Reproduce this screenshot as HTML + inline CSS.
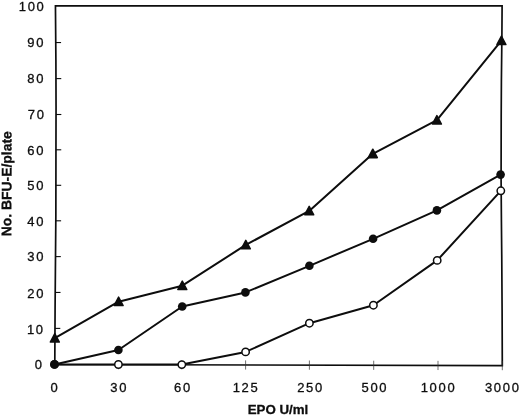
<!DOCTYPE html>
<html><head><meta charset="utf-8"><title>chart</title>
<style>
html,body{margin:0;padding:0;background:#fff;}
body{width:520px;height:416px;overflow:hidden;position:relative;font-family:"Liberation Sans",sans-serif;}
svg{position:absolute;left:0;top:0;}
.t{font-family:"Liberation Sans",sans-serif;font-size:13px;letter-spacing:1.7px;fill:#0d0d0d;stroke:#0d0d0d;stroke-width:0.3px;}
.b{font-family:"Liberation Sans",sans-serif;font-size:13.3px;font-weight:bold;fill:#0d0d0d;stroke:#0d0d0d;stroke-width:0.3px;}
</style></head><body>
<svg width="520" height="416" viewBox="0 0 520 416">
<!-- plot frame -->
<polygon points="54.8,364.5 55.1,306 55.4,270 55.85,216 55.96,145 56.05,106 55.9,60 55.45,5.8 502.1,5.8 501.9,36 501.4,80 501.2,116 501.1,180 501.4,220 501.75,256 502.1,310 502.3,365.6" fill="none" stroke="#0d0d0d" stroke-width="1.7" stroke-linejoin="miter"/>
<!-- y ticks -->
<line x1="54.99" y1="328.40" x2="60.29" y2="328.40" stroke="#0d0d0d" stroke-width="1.1"/>
<line x1="55.21" y1="292.45" x2="60.51" y2="292.45" stroke="#0d0d0d" stroke-width="1.1"/>
<line x1="55.51" y1="256.60" x2="60.81" y2="256.60" stroke="#0d0d0d" stroke-width="1.1"/>
<line x1="55.81" y1="220.80" x2="61.11" y2="220.80" stroke="#0d0d0d" stroke-width="1.1"/>
<line x1="55.90" y1="185.30" x2="61.20" y2="185.30" stroke="#0d0d0d" stroke-width="1.1"/>
<line x1="55.95" y1="149.80" x2="61.25" y2="149.80" stroke="#0d0d0d" stroke-width="1.1"/>
<line x1="56.03" y1="114.50" x2="61.33" y2="114.50" stroke="#0d0d0d" stroke-width="1.1"/>
<line x1="55.96" y1="78.60" x2="61.26" y2="78.60" stroke="#0d0d0d" stroke-width="1.1"/>
<line x1="55.76" y1="42.55" x2="61.06" y2="42.55" stroke="#0d0d0d" stroke-width="1.1"/>
<!-- x ticks -->
<line x1="118.50" y1="360.06" x2="118.50" y2="369.26" stroke="#333" stroke-width="0.7"/>
<line x1="181.80" y1="360.21" x2="181.80" y2="369.41" stroke="#333" stroke-width="0.7"/>
<line x1="245.60" y1="360.37" x2="245.60" y2="369.57" stroke="#333" stroke-width="0.7"/>
<line x1="309.40" y1="360.53" x2="309.40" y2="369.73" stroke="#333" stroke-width="0.7"/>
<line x1="373.70" y1="360.69" x2="373.70" y2="369.89" stroke="#333" stroke-width="0.7"/>
<line x1="438.00" y1="360.84" x2="438.00" y2="370.04" stroke="#333" stroke-width="0.7"/>
<line x1="502.30" y1="361.00" x2="502.30" y2="370.20" stroke="#333" stroke-width="0.7"/>
<!-- y labels -->
<text class="t" x="43.8" y="369.1" text-anchor="end">0</text>
<text class="t" x="44.8" y="333.8" text-anchor="end">10</text>
<text class="t" x="45.2" y="297.5" text-anchor="end">20</text>
<text class="t" x="45.2" y="261.4" text-anchor="end">30</text>
<text class="t" x="45.2" y="225.9" text-anchor="end">40</text>
<text class="t" x="45.2" y="190.4" text-anchor="end">50</text>
<text class="t" x="45.2" y="154.9" text-anchor="end">60</text>
<text class="t" x="45.6" y="119.0" text-anchor="end">70</text>
<text class="t" x="45.2" y="83.3" text-anchor="end">80</text>
<text class="t" x="45.2" y="47.0" text-anchor="end">90</text>
<text class="t" x="45.5" y="10.7" text-anchor="end">100</text>
<!-- x labels -->
<text class="t" x="54.9" y="391.5" text-anchor="middle">0</text>
<text class="t" x="119.3" y="391.5" text-anchor="middle">30</text>
<text class="t" x="183.0" y="391.5" text-anchor="middle">60</text>
<text class="t" x="246.1" y="391.5" text-anchor="middle">125</text>
<text class="t" x="310.6" y="391.5" text-anchor="middle">250</text>
<text class="t" x="374.9" y="391.5" text-anchor="middle">500</text>
<text class="t" x="438.5" y="391.5" text-anchor="middle">1000</text>
<text class="t" x="502.8" y="391.5" text-anchor="middle">3000</text>
<text class="b" x="278" y="414" text-anchor="middle">EPO U/ml</text>
<text class="b" transform="translate(11.4,183.7) rotate(-89.92)" text-anchor="middle" style="font-size:13.9px">No. BFU-E/plate</text>
<!-- series lines -->
<polyline points="54.5,364.4 118.4,364.5 181.8,364.6 245.6,351.9 309.4,323.2 373.4,305.2 437.2,260.4 500.8,190.8" fill="none" stroke="#0d0d0d" stroke-width="2" stroke-linejoin="round"/>
<polyline points="54.5,364.4 118.4,350.0 182.2,306.5 245.4,292.4 309.4,265.8 373.1,238.8 436.9,210.4 500.6,174.6" fill="none" stroke="#0d0d0d" stroke-width="2" stroke-linejoin="round"/>
<polyline points="54.8,338.2 118.6,301.7 182.3,285.7 245.8,244.9 309.2,210.9 372.8,153.8 436.9,120.2 501.4,40.6" fill="none" stroke="#0d0d0d" stroke-width="2" stroke-linejoin="round"/>
<!-- markers -->
<circle cx="54.5" cy="364.4" r="3.7" fill="#fff" stroke="#0d0d0d" stroke-width="1.5"/>
<circle cx="118.4" cy="364.5" r="3.7" fill="#fff" stroke="#0d0d0d" stroke-width="1.5"/>
<circle cx="181.8" cy="364.6" r="3.7" fill="#fff" stroke="#0d0d0d" stroke-width="1.5"/>
<circle cx="245.6" cy="351.9" r="3.7" fill="#fff" stroke="#0d0d0d" stroke-width="1.5"/>
<circle cx="309.4" cy="323.2" r="3.7" fill="#fff" stroke="#0d0d0d" stroke-width="1.5"/>
<circle cx="373.4" cy="305.2" r="3.7" fill="#fff" stroke="#0d0d0d" stroke-width="1.5"/>
<circle cx="437.2" cy="260.4" r="3.7" fill="#fff" stroke="#0d0d0d" stroke-width="1.5"/>
<circle cx="500.8" cy="190.8" r="3.7" fill="#fff" stroke="#0d0d0d" stroke-width="1.5"/>
<circle cx="54.5" cy="364.4" r="4.3" fill="#0d0d0d"/>
<circle cx="118.4" cy="350.0" r="4.3" fill="#0d0d0d"/>
<circle cx="182.2" cy="306.5" r="4.3" fill="#0d0d0d"/>
<circle cx="245.4" cy="292.4" r="4.3" fill="#0d0d0d"/>
<circle cx="309.4" cy="265.8" r="4.3" fill="#0d0d0d"/>
<circle cx="373.1" cy="238.8" r="4.3" fill="#0d0d0d"/>
<circle cx="436.9" cy="210.4" r="4.3" fill="#0d0d0d"/>
<circle cx="500.6" cy="174.6" r="4.3" fill="#0d0d0d"/>
<polygon points="54.8,333.6 59.3,342.1 50.3,342.1" fill="#0d0d0d" stroke="#0d0d0d" stroke-width="1.5" stroke-linejoin="round"/>
<polygon points="118.6,297.1 123.1,305.6 114.1,305.6" fill="#0d0d0d" stroke="#0d0d0d" stroke-width="1.5" stroke-linejoin="round"/>
<polygon points="182.3,281.1 186.8,289.6 177.8,289.6" fill="#0d0d0d" stroke="#0d0d0d" stroke-width="1.5" stroke-linejoin="round"/>
<polygon points="245.8,240.3 250.3,248.8 241.3,248.8" fill="#0d0d0d" stroke="#0d0d0d" stroke-width="1.5" stroke-linejoin="round"/>
<polygon points="309.2,206.3 313.7,214.8 304.7,214.8" fill="#0d0d0d" stroke="#0d0d0d" stroke-width="1.5" stroke-linejoin="round"/>
<polygon points="372.8,149.2 377.3,157.7 368.3,157.7" fill="#0d0d0d" stroke="#0d0d0d" stroke-width="1.5" stroke-linejoin="round"/>
<polygon points="436.9,115.6 441.4,124.1 432.4,124.1" fill="#0d0d0d" stroke="#0d0d0d" stroke-width="1.5" stroke-linejoin="round"/>
<polygon points="501.4,36.0 505.9,44.5 496.9,44.5" fill="#0d0d0d" stroke="#0d0d0d" stroke-width="1.5" stroke-linejoin="round"/>
</svg></body></html>
